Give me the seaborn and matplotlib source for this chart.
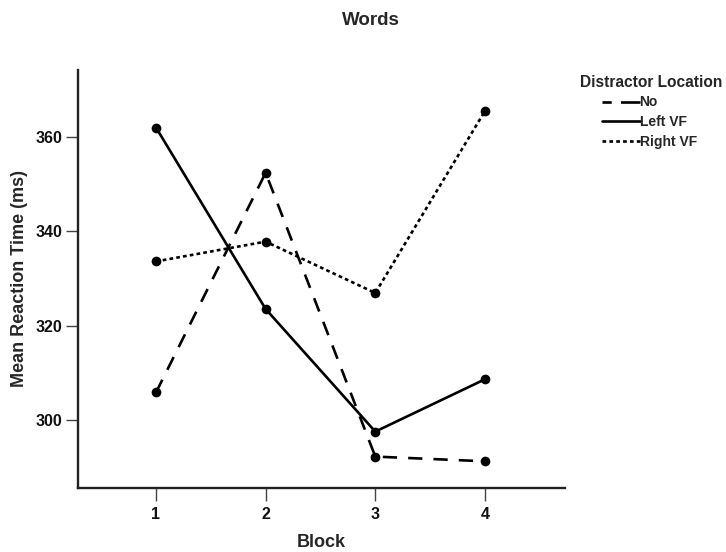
import matplotlib
matplotlib.use("Agg")
import matplotlib.pyplot as plt
from matplotlib.lines import Line2D
import seaborn as sns
import pandas as pd

# Mean reaction times per block for each distractor location
blocks = [1, 2, 3, 4]
rt_no = [305.8, 352.4, 292.2, 291.2]
rt_left = [362.0, 323.5, 297.5, 308.6]
rt_right = [333.6, 337.8, 326.9, 365.5]
locations = ["No", "Left VF", "Right VF"]
y_ticks = [300, 320, 340, 360]

df = pd.DataFrame({
    "Block": blocks * 3,
    "RT": rt_no + rt_left + rt_right,
    "Location": [locations[0]] * 4 + [locations[1]] * 4 + [locations[2]] * 4,
})

sns.set_theme(style="ticks")
plt.rcParams["font.family"] = ["Liberation Sans", "DejaVu Sans"]
plt.rcParams["font.weight"] = "bold"

W, H = 726, 552
fig = plt.figure(figsize=(W / 100, H / 100), dpi=100)
ax = fig.add_axes([77.7 / W, 1 - 487.7 / H, (565 - 77.7) / W, (487.7 - 70) / H])

LW = 1.9
dash_map = {"No": (5.4, 4.2), "Left VF": "", "Right VF": (1.4, 1.2)}
sns.lineplot(
    data=df, x="Block", y="RT", style="Location", style_order=locations,
    dashes=dash_map, markers={"No": "o", "Left VF": "o", "Right VF": "o"},
    color="black", linewidth=LW, markersize=7, markeredgewidth=0,
    legend=False, ax=ax,
)

ax.set_xlim(0.286, 4.73)
ax.set_ylim(285.6, 374.2)
ax.set_xticks(blocks)
ax.set_yticks(y_ticks)
ax.tick_params(axis="both", direction="out", length=9, width=1.0,
               color="#444444", labelsize=11.5, labelcolor="#111111")
ax.tick_params(axis="x", pad=5)
ax.tick_params(axis="y", pad=2)
for lab in ax.get_xticklabels() + ax.get_yticklabels():
    lab.set_fontweight("bold")
for s in ["top", "right"]:
    ax.spines[s].set_visible(False)
for s in ["left", "bottom"]:
    ax.spines[s].set_linewidth(1.7)
    ax.spines[s].set_color("#222222")

ax.set_xlabel("Block", fontsize=13, fontweight="bold", va="baseline")
ax.set_ylabel("Mean Reaction Time (ms)", fontsize=13, fontweight="bold",
              va="baseline")
ax.xaxis.set_label_coords(0.5, (487.7 - 546.7) / 417.7)
ax.yaxis.set_label_coords((24.1 - 77.7) / 487.3, 0.5)

fig.text(371 / W, 1 - 25 / H, "Words", ha="center", va="baseline",
         fontsize=13.5, fontweight="bold")

# Legend: title on its own line, entries indented beneath it
fig.text(580 / W, 1 - 86.7 / H, "Distractor Location", ha="left",
         va="baseline", fontsize=11.2, fontweight="bold")
handles = [
    Line2D([], [], color="black", linewidth=LW, dashes=(3.5, 3.5, 7.2, 0.01)),
    Line2D([], [], color="black", linewidth=LW),
    Line2D([], [], color="black", linewidth=LW, dashes=(1.4, 1.2)),
]
leg = fig.legend(
    handles, locations, loc="upper left", bbox_to_anchor=(602 / W, 1 - 95.5 / H),
    frameon=False, fontsize=10, handlelength=2.7, handletextpad=0.0,
    labelspacing=0.4, borderaxespad=0, borderpad=0,
)
for t in leg.get_texts():
    t.set_fontweight("bold")

fig.savefig("out.png", dpi=100)
